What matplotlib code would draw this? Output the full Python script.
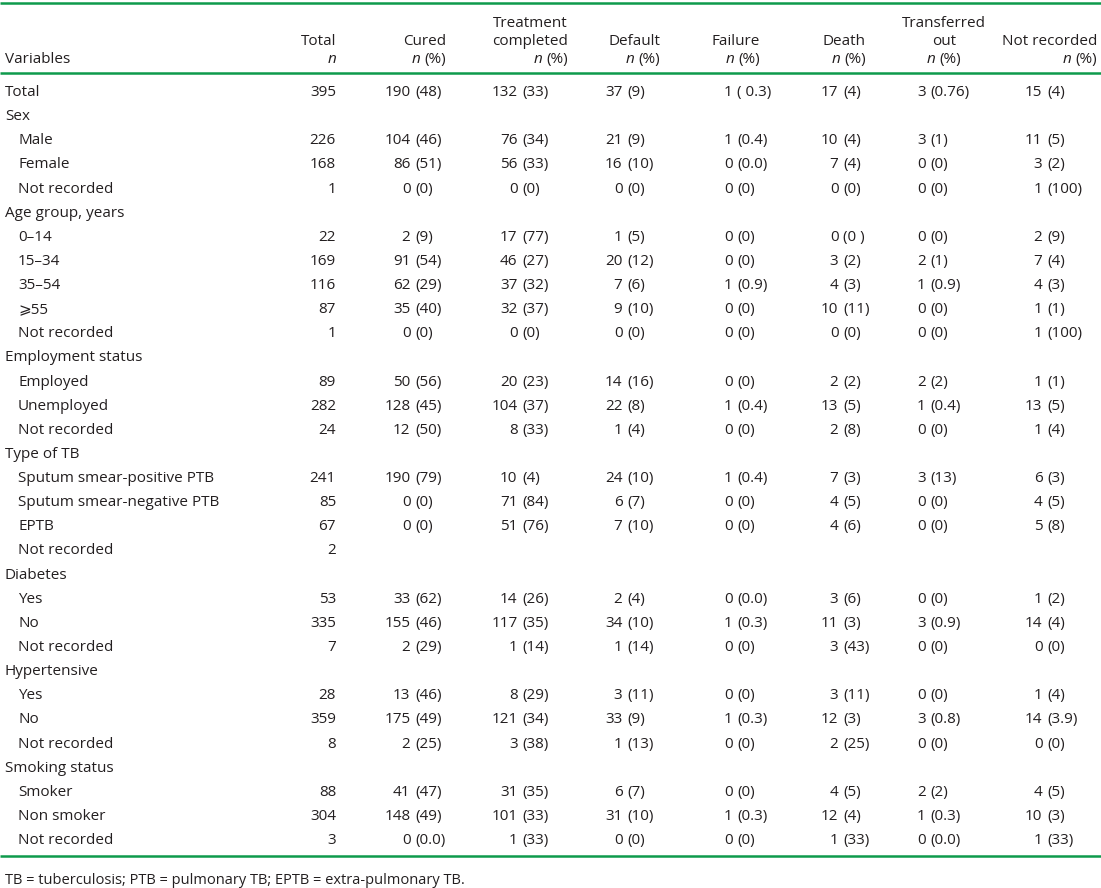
import matplotlib.pyplot as plt

plt.rcParams['font.family'] = ['Open Sans', 'DejaVu Sans']

row_labels = [
    'Total',
    'Sex', 'Male', 'Female', 'Not recorded',
    'Age group, years', '0–14', '15–34', '35–54', '⩾55', 'Not recorded',
    'Employment status', 'Employed', 'Unemployed', 'Not recorded',
    'Type of TB', 'Sputum smear-positive PTB', 'Sputum smear-negative PTB', 'EPTB', 'Not recorded',
    'Diabetes', 'Yes', 'No', 'Not recorded',
    'Hypertensive', 'Yes', 'No', 'Not recorded',
    'Smoking status', 'Smoker', 'Non smoker', 'Not recorded',
]
totals = [
    '395',
    '', '226', '168', '1',
    '', '22', '169', '116', '87', '1',
    '', '89', '282', '24',
    '', '241', '85', '67', '2',
    '', '53', '335', '7',
    '', '28', '359', '8',
    '', '88', '304', '3',
]
cured = [
    '190 (48)',
    '', '104 (46)', '86 (51)', '0 (0)',
    '', '2 (9)', '91 (54)', '62 (29)', '35 (40)', '0 (0)',
    '', '50 (56)', '128 (45)', '12 (50)',
    '', '190 (79)', '0 (0)', '0 (0)', '',
    '', '33 (62)', '155 (46)', '2 (29)',
    '', '13 (46)', '175 (49)', '2 (25)',
    '', '41 (47)', '148 (49)', '0 (0.0)',
]
treatment_completed = [
    '132 (33)',
    '', '76 (34)', '56 (33)', '0 (0)',
    '', '17 (77)', '46 (27)', '37 (32)', '32 (37)', '0 (0)',
    '', '20 (23)', '104 (37)', '8 (33)',
    '', '10 (4)', '71 (84)', '51 (76)', '',
    '', '14 (26)', '117 (35)', '1 (14)',
    '', '8 (29)', '121 (34)', '3 (38)',
    '', '31 (35)', '101 (33)', '1 (33)',
]
default = [
    '37 (9)',
    '', '21 (9)', '16 (10)', '0 (0)',
    '', '1 (5)', '20 (12)', '7 (6)', '9 (10)', '0 (0)',
    '', '14 (16)', '22 (8)', '1 (4)',
    '', '24 (10)', '6 (7)', '7 (10)', '',
    '', '2 (4)', '34 (10)', '1 (14)',
    '', '3 (11)', '33 (9)', '1 (13)',
    '', '6 (7)', '31 (10)', '0 (0)',
]
failure = [
    '1 ( 0.3)',
    '', '1 (0.4)', '0 (0.0)', '0 (0)',
    '', '0 (0)', '0 (0)', '1 (0.9)', '0 (0)', '0 (0)',
    '', '0 (0)', '1 (0.4)', '0 (0)',
    '', '1 (0.4)', '0 (0)', '0 (0)', '',
    '', '0 (0.0)', '1 (0.3)', '0 (0)',
    '', '0 (0)', '1 (0.3)', '0 (0)',
    '', '0 (0)', '1 (0.3)', '0 (0)',
]
death = [
    '17 (4)',
    '', '10 (4)', '7 (4)', '0 (0)',
    '', '0 (0 )', '3 (2)', '4 (3)', '10 (11)', '0 (0)',
    '', '2 (2)', '13 (5)', '2 (8)',
    '', '7 (3)', '4 (5)', '4 (6)', '',
    '', '3 (6)', '11 (3)', '3 (43)',
    '', '3 (11)', '12 (3)', '2 (25)',
    '', '4 (5)', '12 (4)', '1 (33)',
]
transferred_out = [
    '3 (0.76)',
    '', '3 (1)', '0 (0)', '0 (0)',
    '', '0 (0)', '2 (1)', '1 (0.9)', '0 (0)', '0 (0)',
    '', '2 (2)', '1 (0.4)', '0 (0)',
    '', '3 (13)', '0 (0)', '0 (0)', '',
    '', '0 (0)', '3 (0.9)', '0 (0)',
    '', '0 (0)', '3 (0.8)', '0 (0)',
    '', '2 (2)', '1 (0.3)', '0 (0.0)',
]
not_recorded = [
    '15 (4)',
    '', '11 (5)', '3 (2)', '1 (100)',
    '', '2 (9)', '7 (4)', '4 (3)', '1 (1)', '1 (100)',
    '', '1 (1)', '13 (5)', '1 (4)',
    '', '6 (3)', '4 (5)', '5 (8)', '',
    '', '1 (2)', '14 (4)', '0 (0)',
    '', '1 (4)', '14 (3.9)', '0 (0)',
    '', '4 (5)', '10 (3)', '1 (33)',
]
value_columns = [cured, treatment_completed, default, failure, death,
                 transferred_out, not_recorded]
column_headers = [['Cured'], ['Treatment', 'completed'], ['Default'], ['Failure'],
                  ['Death'], ['Transferred', 'out'], ['Not recorded']]
footnote = 'TB = tuberculosis; PTB = pulmonary TB; EPTB = extra-pulmonary TB.'

W, H = 1101, 888
fig = plt.figure(figsize=(W / 100, H / 100), dpi=100)
ax = fig.add_axes([0, 0, 1, 1])
ax.set_xlim(0, W)
ax.set_ylim(H, 0)
ax.axis('off')

ink = '#231f20'
green = '#0e9a4c'
fs = 11

# rules
for y in (3, 73, 856):
    ax.plot([0, W], [y, y], color=green, lw=1.8, solid_capstyle='butt')

fig.canvas.draw()
renderer = fig.canvas.get_renderer()


def text_width(s, **kw):
    t = ax.text(0, 0, s, fontsize=fs, **kw)
    w = t.get_window_extent(renderer).width
    t.remove()
    return w


# header
hdr_y = [27, 45, 63]
ax.text(5, hdr_y[2], 'Variables', fontsize=fs, color=ink)
ax.text(336, hdr_y[1], 'Total', fontsize=fs, color=ink, ha='right')
ax.text(336, hdr_y[2], 'n', fontsize=fs, color=ink, ha='right', style='italic')

header_x = [446, 568, 660, 760, 866, 944, 1097]
w_pct = text_width('(%)')
w_n = text_width('n', style='italic')
gap = 4
for x, lines in zip(header_x, column_headers):
    centered = lines[0] == 'Transferred'
    ha = 'center' if centered else 'right'
    for k, line in enumerate(lines):
        ax.text(x, hdr_y[2 - len(lines) + k], line, fontsize=fs, color=ink, ha=ha)
    right = x + (w_n + gap + w_pct) / 2 if centered else x
    ax.text(right, hdr_y[2], '(%)', fontsize=fs, color=ink, ha='right')
    ax.text(right - w_pct - gap, hdr_y[2], 'n', fontsize=fs, color=ink,
            ha='right', style='italic')

# body: each cell aligned on its opening parenthesis
paren_x = [415, 522, 627, 737, 843, 930, 1047]
row_h = 24.13
for i, label in enumerate(row_labels):
    yb = 96 + i * row_h
    indent = 5 if (i == 0 or totals[i] == '') else 18
    ax.text(indent, yb, label, fontsize=fs, color=ink)
    if totals[i]:
        ax.text(336, yb, totals[i], fontsize=fs, color=ink, ha='right')
    for col, px in zip(value_columns, paren_x):
        cell = col[i]
        if not cell:
            continue
        n, pct = cell.split(' ', 1)
        ax.text(px - 4.5, yb, n, fontsize=fs, color=ink, ha='right')
        ax.text(px, yb, pct, fontsize=fs, color=ink, ha='left')

ax.text(5, 884, footnote, fontsize=10.5, color=ink)

fig.savefig('out.png', dpi=100)
